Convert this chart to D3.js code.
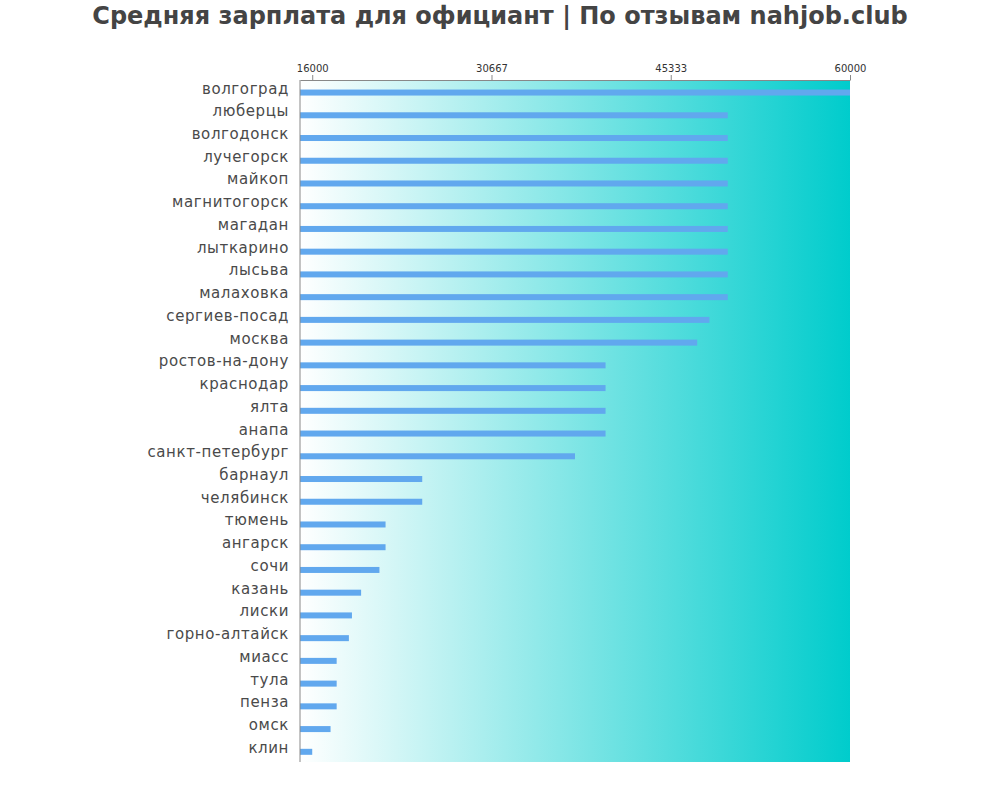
<!DOCTYPE html>
<html><head><meta charset="utf-8">
<script src="https://cdn.jsdelivr.net/npm/d3@7"></script>
<style>body{margin:0;background:#fff;font-family:"DejaVu Sans",sans-serif}</style>
</head><body><svg id="c" width="1000" height="800"></svg>
<script>
const cities = ["волгоград","люберцы","волгодонск","лучегорск","майкоп","магнитогорск","магадан","лыткарино","лысьва","малаховка","сергиев-посад","москва","ростов-на-дону","краснодар","ялта","анапа","санкт-петербург","барнаул","челябинск","тюмень","ангарск","сочи","казань","лиски","горно-алтайск","миасс","тула","пенза","омск","клин"];
const salaries = [60000,50000,50000,50000,50000,50000,50000,50000,50000,50000,48500,47500,40000,40000,40000,40000,37500,25000,25000,22000,22000,21500,20000,19250,19000,18000,18000,18000,17500,16000];
const tickValues = [16000,30667,45333,60000];

const svg = d3.select("#c");
const L=300,R=850,T=80,B=762;
const x = d3.scaleLinear().domain([15000,60000]).range([L,R]);
const y = d3.scaleBand().domain(cities).range([T,B]).padding(0);

const defs = svg.append("defs");
const g = defs.append("linearGradient").attr("id","bg");
g.append("stop").attr("offset","0%").attr("stop-color","#ffffff");
g.append("stop").attr("offset","100%").attr("stop-color","#00cccc");
svg.append("rect").attr("x",L).attr("y",T).attr("width",R-L).attr("height",B-T).attr("fill","url(#bg)");

svg.append("text").attr("x",500).attr("y",24).attr("text-anchor","middle")
  .attr("font-size",24).attr("font-weight","bold").attr("fill","#444")
  .text("Средняя зарплата для официант | По отзывам nahjob.club");

const bh = y.bandwidth();
svg.selectAll("rect.bar").data(cities).join("rect").attr("class","bar")
  .attr("x",L).attr("y",d=>y(d)+bh*0.42).attr("height",6)
  .attr("width",(d,i)=>x(salaries[i])-L).attr("fill","#61a8ee");

svg.selectAll("text.lab").data(cities).join("text").attr("class","lab")
  .attr("x",289).attr("y",d=>y(d)+bh*0.42+4).attr("text-anchor","end")
  .attr("font-size",15).attr("letter-spacing",0.6).attr("fill","#4a4a4a").text(d=>d);

const ax = svg.append("g").attr("transform",`translate(0,${T})`)
  .call(d3.axisTop(x).tickValues(tickValues).tickFormat(d3.format("d")).tickSize(5).tickSizeOuter(0));
ax.select(".domain").attr("stroke","#888");
ax.selectAll("line").attr("stroke","#888");
ax.selectAll("text").attr("font-size",10).attr("fill","#333").attr("font-family","DejaVu Sans");
svg.append("line").attr("x1",L).attr("x2",L).attr("y1",T).attr("y2",B).attr("stroke","#888");
</script></body></html>
